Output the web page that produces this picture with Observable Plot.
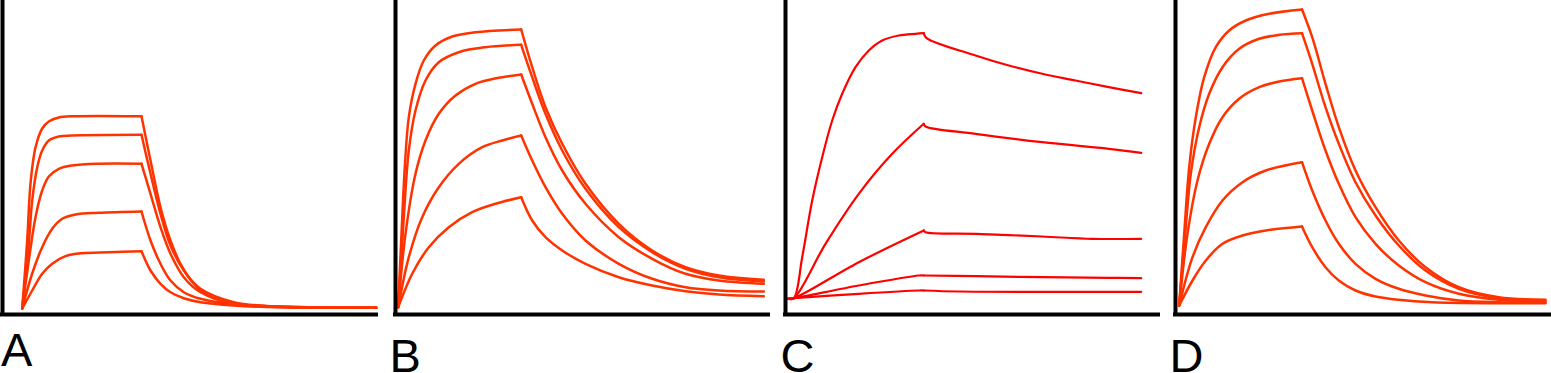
<!DOCTYPE html>
<html>
<head>
<meta charset="utf-8">
<script src="https://cdn.jsdelivr.net/npm/d3@7"></script>
<script src="https://cdn.jsdelivr.net/npm/@observablehq/plot@0.6"></script>
<style>
  html, body { margin: 0; padding: 0; background: #fff; }
  #chart { position: relative; width: 1551px; height: 373px; overflow: hidden; }
  #chart svg { position: absolute; top: 0; max-width: none; }
</style>
</head>
<body>
<div id="chart"></div>
<script>
// ---- Data: sensorgram curves, [time, response] ----
const panelLabels = ["A", "B", "C", "D"];
const injectionEnds = [139, 125.7, 138.3, 126.5];
const timeMax = [374, 373, 373, 375];
const responseMax = 314;

const A1 = [[19.7,6],[24.7,74],[28,131],[33,167],[39.7,186],[46.3,193],[56.3,197],[71.3,198.3],[139,198.3],[148,154],[158,107.3],[168,74],[178,50.7],[191.3,30.7],[204.7,19],[231.3,10.7],[264.7,8],[373.7,6.7]];
const A2 = [[19.7,6],[26.3,71],[29.7,114],[34.7,147],[39.7,164],[46.3,174],[56.3,178],[69.7,179],[139,179.7],[148,140.7],[158,100.7],[168,69],[181.3,44],[198,25.7],[231.3,12.3],[264.7,8.5],[373.7,6.7]];
const A3 = [[19.7,6],[26.3,54],[33,97.3],[39.7,124],[46.3,138],[56.3,145.7],[69.7,149],[96.3,150.7],[139,150.7],[148,120.7],[158,87.3],[168,60.7],[181.3,37.3],[198,22.3],[231.3,11.3],[264.7,8.3],[373.7,6.7]];
const A4 = [[19.7,6],[29.7,41],[39.7,67.3],[49.7,85.7],[59.7,95.7],[73,100],[96.3,101.7],[139,103],[148,74],[158,50.7],[168,34],[181.3,22.3],[198,15.7],[231.3,10],[264.7,8],[373.7,6.7]];
const A5 = [[19.7,6],[29.7,24],[39.7,40.7],[49.7,50.7],[63,58.3],[79.7,61.3],[106.3,62.3],[139,63.3],[148,44],[158,30.7],[168,22.3],[181.3,16.3],[198,12.3],[231.3,9],[264.7,7.5],[373.7,6.7]];

const B1 = [[2.7,7.3],[6,80.7],[9.3,147.3],[13.3,197.3],[20,230.7],[28.3,254],[40,269],[56.7,278],[80,282.3],[125.7,285],[136.7,247.3],[150,207.3],[166.7,170.7],[190,130.7],[223.3,90.7],[256.7,64],[290,47.3],[323.3,39],[368.3,34.7]];
const B2 = [[2.7,7.3],[8.3,97.3],[13.3,164],[20,204],[30,234],[43.3,252.3],[63.3,262.3],[90,267.3],[125.7,269.7],[136.7,237.3],[150,200.7],[166.7,164],[190,125.7],[223.3,87.3],[256.7,62.3],[290,45.7],[323.3,37.3],[368.3,33]];
const B3 = [[2.7,7.3],[10,80.7],[20,140.7],[30,174],[43.3,200.7],[60,219],[80,230.7],[103.3,236.7],[125.7,240],[136.7,210.7],[150,177.3],[166.7,144],[190,110.7],[223.3,77.3],[256.7,55.7],[290,40.7],[323.3,34],[368.3,30.7]];
const B4 = [[2.7,7.3],[13.3,57.3],[26.7,97.3],[43.3,127.3],[63.3,150.7],[86.7,167.3],[106.7,174],[125.7,179],[136.7,154],[150,127.3],[166.7,100.7],[190,74],[223.3,50.7],[256.7,35.7],[290,27.3],[323.3,24],[368.3,23]];
const B5 = [[2.7,7.3],[16.7,40.7],[33.3,67.3],[53.3,87.3],[76.7,102.3],[100,110.7],[125.7,117.3],[136.7,94],[150,77.3],[166.7,64],[190,50.7],[223.3,37.3],[256.7,29],[290,23.3],[323.3,20],[368.3,18.3]];

const C1 = [[2.3,15.7],[8.3,16.3],[16.7,57.3],[26.7,114],[36.7,157.3],[46.7,194],[56.7,220.7],[70,247.3],[83.3,264],[96.7,274],[113.3,279],[130,280.7],[138.3,281.3],[140.7,276.7],[190,259],[223.3,249],[256.7,240.7],[290,234],[323.3,227.3],[355.7,221.3]];
const C2 = [[2.3,15.7],[8.3,16.3],[40,70.7],[73.3,120.7],[106.7,160.7],[138.3,190.7],[140,188],[190,180.7],[256.7,172.3],[323.3,165.7],[355.7,161.7]];
const C3 = [[2.3,15.7],[8.3,16.3],[73.3,52.3],[138.3,84],[140,82.3],[190,80.7],[256.7,78],[306.7,75.7],[355.7,75.7]];
const C4 = [[2.3,15.7],[8.3,16.3],[73.3,29],[133.3,39],[138.3,39],[190,38.3],[256.7,37.3],[323.3,36.7],[355.7,36.3]];
const C5 = [[2.3,15.7],[8.3,16.3],[73.3,20.7],[133.3,24],[138.3,24],[173.3,23],[256.7,22.7],[355.7,22.7]];

const D1 = [[3.7,9],[8.7,80.7],[13.7,147.3],[20.3,197.3],[28.7,237.3],[40.3,267.3],[53.7,284],[70.3,294],[93.7,300.7],[126.5,305],[136.7,277.3],[150,230.7],[163.3,187.3],[180,144],[200,107.3],[223.3,74],[250,47.3],[283.3,27.3],[323.3,17.3],[370,14.7]];
const D2 = [[3.7,9],[9.7,80.7],[15.3,140.7],[23.7,187.3],[33.7,220.7],[47,247.3],[63.7,265.7],[83.7,275.7],[103.7,279.7],[126.5,281.3],[136.7,250.7],[150,207.3],[163.3,170.7],[180,132.3],[200,99],[223.3,69],[250,44],[283.3,25.7],[323.3,16.3],[370,14]];
const D3 = [[3.7,9],[12,80.7],[22,134],[33.7,170.7],[47,197.3],[63.7,215.7],[83.7,227.3],[103.7,233],[126.5,236.3],[136.7,204],[150,164],[163.3,130.7],[180,97.3],[200,70.7],[223.3,49],[250,32.3],[283.3,20.7],[323.3,14.7],[370,13]];
const D4 = [[3.7,9],[17,57.3],[30.3,87.3],[47,114],[67,132.3],[90.3,144],[126.5,152.3],[136.7,124],[150,94],[163.3,70.7],[180,50.7],[200,35.7],[223.3,25.7],[250,19],[283.3,14],[323.3,12.3],[370,12]];
const D5 = [[3.7,9],[17,34],[30.3,54],[47,70.7],[67,79],[90.3,84],[126.5,88],[136.7,67.3],[150,47.3],[163.3,34],[180,24],[200,18],[223.3,14.7],[256.7,12.3],[323.3,11.3],[370,11.3]];

const panelCurves = [[A1,A2,A3,A4,A5],[B1,B2,B3,B4,B5],[C1,C2,C3,C4,C5],[D1,D2,D3,D4,D5]];

// ---- Layout / style ----
const layout = [
  {left: 0,    width: 385, marginLeft: 2,  marginRight: 9, color: "#ff3300", sw: 2.5, dx: -1.5, dy: 18},
  {left: 385,  width: 390, marginLeft: 10, marginRight: 7, color: "#ff3300", sw: 2.5, dx: -6,   dy: 24},
  {left: 775,  width: 390, marginLeft: 10, marginRight: 7, color: "#ff0000", sw: 2.2, dx: -5,   dy: 24},
  {left: 1165, width: 386, marginLeft: 10, marginRight: 1, color: "#ff3300", sw: 2.5, dx: -6,   dy: 24}
];

function toRows(curves, tEnd) {
  const rows = [];
  curves.forEach((pts, i) => {
    pts.forEach(([t, r]) => {
      if (t <= tEnd) rows.push({t, r, z: i + "-assoc"});
      if (t >= tEnd) rows.push({t, r, z: i + "-dissoc"});
    });
  });
  return rows;
}

const chart = document.getElementById("chart");
panelLabels.forEach((label, p) => {
  const L = layout[p];
  const rows = toRows(panelCurves[p], injectionEnds[p]);
  const svg = Plot.plot({
    width: L.width,
    height: 373,
    marginLeft: L.marginLeft,
    marginRight: L.marginRight,
    marginTop: 0,
    marginBottom: 59,
    x: {domain: [0, timeMax[p]], axis: null},
    y: {domain: [0, responseMax], axis: null},
    style: {background: "transparent", overflow: "visible"},
    marks: [
      Plot.line(rows, {x: "t", y: "r", z: "z", stroke: L.color, strokeWidth: L.sw, curve: "catmull-rom"}),
      Plot.ruleX([0], {stroke: "black", strokeWidth: 4, strokeLinecap: "square"}),
      Plot.ruleY([0], {stroke: "black", strokeWidth: 4, strokeLinecap: "square"}),
      Plot.text([label], {
        text: d => d, frameAnchor: "bottom-left", textAnchor: "start", lineAnchor: "top",
        dx: L.dx, dy: L.dy, fontSize: 47, fontFamily: "Liberation Sans, Arial, sans-serif", fill: "black"
      })
    ]
  });
  svg.style.left = L.left + "px";
  chart.appendChild(svg);
});
</script>
</body>
</html>
